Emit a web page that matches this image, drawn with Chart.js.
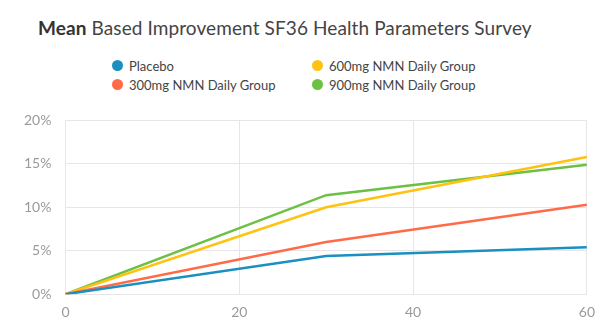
<!DOCTYPE html>
<html>
<head>
<meta charset="utf-8">
<script src="https://cdn.jsdelivr.net/npm/chart.js@4"></script>
<style>
  body { margin: 0; width: 600px; height: 333px; background: #fff; font-family: "Lato", sans-serif; overflow: hidden; position: relative; }
  #titulo { position: absolute; left: 38px; top: 16px; font-size: 19px; color: #444; margin: 0; font-weight: normal; letter-spacing: 0.1px; }
  #titulo b { color: #333; }
  #leyenda { position: absolute; left: 112px; top: 58px; display: grid; grid-template-columns: 200px 200px; row-gap: 4px; font-size: 13px; color: #444; }
  #leyenda span.item { display: flex; align-items: center; height: 15px; }
  #leyenda i { width: 11px; height: 11px; border-radius: 50%; display: inline-block; margin-right: 6px; }
  #caja { position: absolute; left: 0; top: 98px; width: 605px; height: 235px; }
</style>
</head>
<body>
<h1 id="titulo"><b>Mean</b> Based Improvement SF36 Health Parameters Survey</h1>
<div id="leyenda"></div>
<div id="caja"><canvas id="grafico"></canvas></div>
<script>
const dias = [0, 30, 60];
const placebo = [0, 4.4, 5.4];
const grupo300 = [0, 6.0, 10.3];
const grupo600 = [0, 10.0, 15.8];
const grupo900 = [0, 11.4, 14.9];
const nombres = ["Placebo", "300mg NMN Daily Group", "600mg NMN Daily Group", "900mg NMN Daily Group"];
const colores = ["#1a8fc1", "#ff6a48", "#ffc20f", "#6cc044"];
const series = [placebo, grupo300, grupo600, grupo900];

const grafico = document.getElementById("grafico");

// ARMA LOS DATASETS CON PARES X/Y
const datasets = series.map((serie, i) => ({
  label: nombres[i],
  data: serie.map((v, j) => ({ x: dias[j], y: v })),
  borderColor: colores[i],
  backgroundColor: colores[i],
  borderWidth: 2.5,
  pointRadius: 0,
  fill: false,
  tension: 0,
}));

// ORDEN DE LA LEYENDA EN DOS COLUMNAS
const ordenLeyenda = [0, 2, 1, 3];
document.getElementById("leyenda").innerHTML = ordenLeyenda
  .map((i) => `<span class="item"><i style="background:${colores[i]}"></i>${nombres[i]}</span>`)
  .join("");

new Chart(grafico, {
  type: "line",
  data: { datasets },
  options: {
    responsive: true,
    maintainAspectRatio: false,
    animation: false,
    layout: { padding: { left: 10, right: 0, top: 10, bottom: 2 } },
    plugins: { legend: { display: false }, tooltip: { enabled: false } },
    scales: {
      x: {
        type: "linear",
        min: 0,
        max: 60,
        ticks: { stepSize: 20, color: "#9a9a9a", font: { family: "Lato", size: 14 }, padding: 10 },
        grid: { color: "#e6e6e6", drawTicks: false },
        border: { color: "#e6e6e6" },
      },
      y: {
        min: 0,
        max: 20,
        ticks: {
          stepSize: 5,
          color: "#9a9a9a",
          font: { family: "Lato", size: 14 },
          padding: 14,
          callback: (v) => v + "%",
        },
        grid: { color: "#e6e6e6", drawTicks: false },
        border: { color: "#e6e6e6" },
      },
    },
  },
});
</script>
</body>
</html>
